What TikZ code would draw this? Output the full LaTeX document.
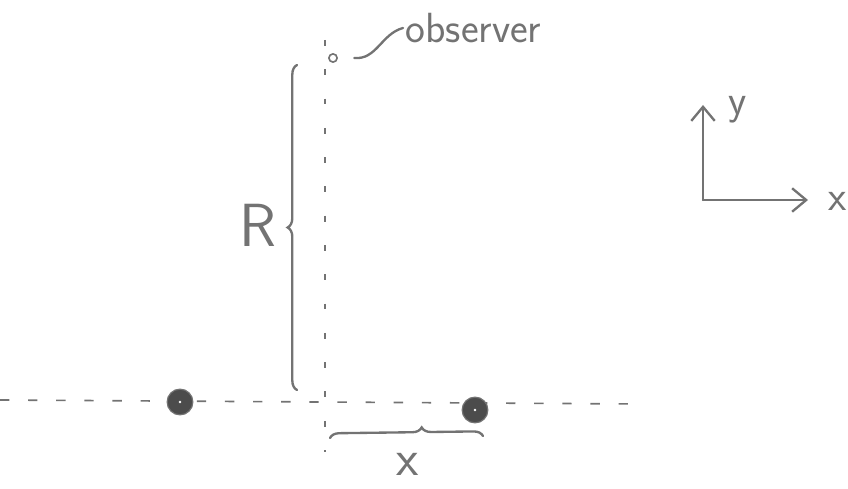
\documentclass[tikz,border=0pt]{standalone}
\usepackage{xcolor}
\usepackage{tikz}
\usetikzlibrary{arrows.meta, positioning, decorations.pathreplacing}
\definecolor{pencil}{gray}{0.45}
\definecolor{lead}{gray}{0.3}

\begin{document}
\begin{tikzpicture}[
    x=0.03cm, y=-0.03cm,
    % Setting up styles here keeps the drawing code clean
    stroke/.style = {draw=pencil, line width=2pt, line cap=round},
    guide/.style = {draw=pencil, line width=1.4pt, dash pattern=on 8pt off 16pt},
    axisline/.style = {stroke, ->, >={Straight Barb[length=12pt,width=20pt,line width=2pt]}},
    brace/.style = {stroke, decorate, decoration={brace, amplitude=8pt}},
    particle/.style = {circle, fill=lead, draw=pencil, line width=1pt, minimum size=22pt, inner sep=0pt,
        path picture={\fill[white] (path picture bounding box.center) circle (1.2pt);}},
    lbl/.style = {text=pencil, font=\sffamily\fontsize{36}{36}\selectfont, inner sep=2pt}
]
    \useasboundingbox (0,0) rectangle (848,489);

    % 1. Observer and the vertical guide through it
    \node (obs) [circle, draw=pencil, line width=1.4pt, minimum size=7pt, inner sep=0pt] at (333,58) {};
    \coordinate (vtop) at (325,40);
    \coordinate (vbot) at (325,452);
    \draw [draw=pencil, line width=1.4pt, dash pattern=on 5pt off 20pt] (vtop) -- (vbot);

    \node (obslabel) [lbl, anchor=west] at (403,28) {observer};
    \draw [stroke] ([xshift=14pt]obs.east) to[out=-5, in=195] (obslabel.west);

    % 2. Particles on the horizontal guide
    \coordinate (hleft) at (0,400);
    \coordinate (hright) at (640,404);
    \draw [guide] (hleft) -- (hright);
    \node (p1) [particle] at (180,402) {};
    \node (p2) [particle] at (475,410) {};

    % 3. Distance R (brace on the left of the guide)
    \coordinate (rbot) at (297,390);
    \coordinate (rtop) at (297,65);
    \draw [brace] (rbot) -- (rtop);
    \node (rlbl) [text=pencil, font=\sffamily\fontsize{52}{52}\selectfont] at (258,225) {R};

    % 4. Distance x (brace under the guide)
    \coordinate (xleft) at (330,438);
    \coordinate (xright) at (483,436);
    \draw [brace, decoration={aspect=0.6}] (xleft) -- (xright);
    \node (xlbl) [lbl, font=\sffamily\fontsize{44}{44}\selectfont] at (408,464) {x};

    % 5. Axes
    \coordinate (origin) at (703,200);
    \coordinate (yend) at (703,105);
    \coordinate (xend) at (808,200);
    \draw [axisline] (origin) -- (yend);
    \draw [axisline] (origin) -- (xend);
    \node (ylbl) [lbl] at (738,110) {y};
    \node (xaxis) [lbl] at (838,201) {x};

\end{tikzpicture}
\end{document}
